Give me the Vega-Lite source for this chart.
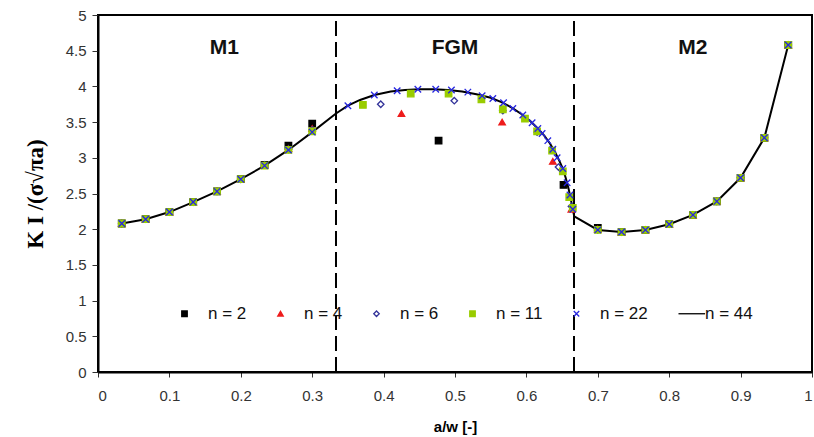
{
  "$schema": "https://vega.github.io/schema/vega-lite/v6.json",
  "width": 714,
  "height": 357,
  "autosize": {"type": "none"},
  "padding": {"left": 98, "top": 15, "right": 2, "bottom": 65},
  "background": "white",
  "config": {
    "view": {"stroke": "#000", "strokeWidth": 2},
    "axis": {
      "grid": false,
      "domainColor": "#000",
      "domainWidth": 2,
      "tickColor": "#333",
      "tickWidth": 1,
      "labelFont": "Liberation Sans",
      "labelFontSize": 15,
      "labelColor": "#333",
      "labelOverlap": false,
      "titleColor": "#000"
    },
    "legend": {
      "orient": "none",
      "legendX": 78,
      "legendY": 290,
      "direction": "horizontal",
      "title": null,
      "labelFont": "Liberation Sans",
      "labelFontSize": 17,
      "labelColor": "#111",
      "symbolSize": 30,
      "symbolStrokeWidth": 1.3,
      "labelOffset": 15,
      "columnPadding": 25
    }
  },
  "encoding": {
    "x": {
      "field": "x", "type": "quantitative",
      "scale": {"domain": [0, 1], "nice": false, "zero": false},
      "axis": {
        "values": [0, 0.1, 0.2, 0.3, 0.4, 0.5, 0.6, 0.7, 0.8, 0.9, 1],
        "labelExpr": "format(datum.value, '~g')",
        "tickSize": 5, "labelPadding": 11, "labelOverlap": false,
        "title": "a/w [-]",
        "titleFont": "Liberation Sans", "titleFontSize": 15, "titleFontWeight": "bold",
        "titlePadding": 16
      }
    },
    "y": {
      "field": "y", "type": "quantitative",
      "scale": {"domain": [0, 5], "nice": false, "zero": true},
      "axis": {
        "values": [0, 0.5, 1, 1.5, 2, 2.5, 3, 3.5, 4, 4.5, 5],
        "labelExpr": "format(datum.value, '~g')",
        "tickSize": 6, "labelPadding": 6, "labelOverlap": false, "labelSeparation": 0,
        "title": "K I /(σ√πa)",
        "titleFont": "Liberation Serif", "titleFontSize": 23, "titleFontWeight": "bold",
        "titlePadding": 18
      }
    }
  },
  "datasets": {
    "pts": [
      {"s": "n = 2", "x": 0.0333, "y": 2.08}, {"s": "n = 2", "x": 0.0667, "y": 2.14}, {"s": "n = 2", "x": 0.1, "y": 2.24},
      {"s": "n = 2", "x": 0.1333, "y": 2.38}, {"s": "n = 2", "x": 0.1667, "y": 2.53}, {"s": "n = 2", "x": 0.2, "y": 2.7},
      {"s": "n = 2", "x": 0.2333, "y": 2.9}, {"s": "n = 2", "x": 0.2667, "y": 3.17}, {"s": "n = 2", "x": 0.3, "y": 3.48},
      {"s": "n = 2", "x": 0.477, "y": 3.24}, {"s": "n = 2", "x": 0.652, "y": 2.62},
      {"s": "n = 2", "x": 0.7, "y": 2.02}, {"s": "n = 2", "x": 0.7333, "y": 1.96}, {"s": "n = 2", "x": 0.7667, "y": 1.99},
      {"s": "n = 2", "x": 0.8, "y": 2.07}, {"s": "n = 2", "x": 0.8333, "y": 2.2}, {"s": "n = 2", "x": 0.8667, "y": 2.39},
      {"s": "n = 2", "x": 0.9, "y": 2.72}, {"s": "n = 2", "x": 0.9333, "y": 3.28}, {"s": "n = 2", "x": 0.9667, "y": 4.58},

      {"s": "n = 4", "x": 0.0333, "y": 2.08}, {"s": "n = 4", "x": 0.0667, "y": 2.14}, {"s": "n = 4", "x": 0.1, "y": 2.24},
      {"s": "n = 4", "x": 0.1333, "y": 2.38}, {"s": "n = 4", "x": 0.1667, "y": 2.53}, {"s": "n = 4", "x": 0.2, "y": 2.7},
      {"s": "n = 4", "x": 0.2333, "y": 2.9}, {"s": "n = 4", "x": 0.2667, "y": 3.13}, {"s": "n = 4", "x": 0.3, "y": 3.41},
      {"s": "n = 4", "x": 0.425, "y": 3.62}, {"s": "n = 4", "x": 0.566, "y": 3.5}, {"s": "n = 4", "x": 0.637, "y": 2.95}, {"s": "n = 4", "x": 0.663, "y": 2.28},
      {"s": "n = 4", "x": 0.7, "y": 2.0}, {"s": "n = 4", "x": 0.7333, "y": 1.96}, {"s": "n = 4", "x": 0.7667, "y": 1.99},
      {"s": "n = 4", "x": 0.8, "y": 2.07}, {"s": "n = 4", "x": 0.8333, "y": 2.2}, {"s": "n = 4", "x": 0.8667, "y": 2.39},
      {"s": "n = 4", "x": 0.9, "y": 2.72}, {"s": "n = 4", "x": 0.9333, "y": 3.28}, {"s": "n = 4", "x": 0.9667, "y": 4.58},

      {"s": "n = 6", "x": 0.0333, "y": 2.08}, {"s": "n = 6", "x": 0.0667, "y": 2.14}, {"s": "n = 6", "x": 0.1, "y": 2.24},
      {"s": "n = 6", "x": 0.1333, "y": 2.38}, {"s": "n = 6", "x": 0.1667, "y": 2.53}, {"s": "n = 6", "x": 0.2, "y": 2.7},
      {"s": "n = 6", "x": 0.2333, "y": 2.9}, {"s": "n = 6", "x": 0.2667, "y": 3.12}, {"s": "n = 6", "x": 0.3, "y": 3.39},
      {"s": "n = 6", "x": 0.396, "y": 3.75}, {"s": "n = 6", "x": 0.499, "y": 3.8}, {"s": "n = 6", "x": 0.567, "y": 3.66},
      {"s": "n = 6", "x": 0.615, "y": 3.36}, {"s": "n = 6", "x": 0.645, "y": 2.87}, {"s": "n = 6", "x": 0.663, "y": 2.32},
      {"s": "n = 6", "x": 0.7, "y": 1.99}, {"s": "n = 6", "x": 0.7333, "y": 1.96}, {"s": "n = 6", "x": 0.7667, "y": 1.99},
      {"s": "n = 6", "x": 0.8, "y": 2.07}, {"s": "n = 6", "x": 0.8333, "y": 2.2}, {"s": "n = 6", "x": 0.8667, "y": 2.39},
      {"s": "n = 6", "x": 0.9, "y": 2.72}, {"s": "n = 6", "x": 0.9333, "y": 3.28}, {"s": "n = 6", "x": 0.9667, "y": 4.58},

      {"s": "n = 11", "x": 0.0333, "y": 2.08}, {"s": "n = 11", "x": 0.0667, "y": 2.14}, {"s": "n = 11", "x": 0.1, "y": 2.24},
      {"s": "n = 11", "x": 0.1333, "y": 2.38}, {"s": "n = 11", "x": 0.1667, "y": 2.53}, {"s": "n = 11", "x": 0.2, "y": 2.7},
      {"s": "n = 11", "x": 0.2333, "y": 2.89}, {"s": "n = 11", "x": 0.2667, "y": 3.11}, {"s": "n = 11", "x": 0.3, "y": 3.37},
      {"s": "n = 11", "x": 0.371, "y": 3.74}, {"s": "n = 11", "x": 0.438, "y": 3.9}, {"s": "n = 11", "x": 0.491, "y": 3.9},
      {"s": "n = 11", "x": 0.537, "y": 3.82}, {"s": "n = 11", "x": 0.567, "y": 3.68}, {"s": "n = 11", "x": 0.598, "y": 3.55},
      {"s": "n = 11", "x": 0.615, "y": 3.37}, {"s": "n = 11", "x": 0.636, "y": 3.1}, {"s": "n = 11", "x": 0.651, "y": 2.81},
      {"s": "n = 11", "x": 0.66, "y": 2.45}, {"s": "n = 11", "x": 0.665, "y": 2.3},
      {"s": "n = 11", "x": 0.7, "y": 1.99}, {"s": "n = 11", "x": 0.7333, "y": 1.96}, {"s": "n = 11", "x": 0.7667, "y": 1.99},
      {"s": "n = 11", "x": 0.8, "y": 2.07}, {"s": "n = 11", "x": 0.8333, "y": 2.2}, {"s": "n = 11", "x": 0.8667, "y": 2.39},
      {"s": "n = 11", "x": 0.9, "y": 2.72}, {"s": "n = 11", "x": 0.9333, "y": 3.28}, {"s": "n = 11", "x": 0.9667, "y": 4.58},

      {"s": "n = 22", "x": 0.0333, "y": 2.08}, {"s": "n = 22", "x": 0.0667, "y": 2.14}, {"s": "n = 22", "x": 0.1, "y": 2.24},
      {"s": "n = 22", "x": 0.1333, "y": 2.38}, {"s": "n = 22", "x": 0.1667, "y": 2.53}, {"s": "n = 22", "x": 0.2, "y": 2.7},
      {"s": "n = 22", "x": 0.2333, "y": 2.89}, {"s": "n = 22", "x": 0.2667, "y": 3.11}, {"s": "n = 22", "x": 0.3, "y": 3.36},
      {"s": "n = 22", "x": 0.35, "y": 3.73}, {"s": "n = 22", "x": 0.387, "y": 3.88}, {"s": "n = 22", "x": 0.419, "y": 3.94},
      {"s": "n = 22", "x": 0.448, "y": 3.96}, {"s": "n = 22", "x": 0.473, "y": 3.96}, {"s": "n = 22", "x": 0.495, "y": 3.95},
      {"s": "n = 22", "x": 0.518, "y": 3.92}, {"s": "n = 22", "x": 0.538, "y": 3.87}, {"s": "n = 22", "x": 0.553, "y": 3.83},
      {"s": "n = 22", "x": 0.568, "y": 3.77}, {"s": "n = 22", "x": 0.581, "y": 3.69}, {"s": "n = 22", "x": 0.595, "y": 3.6},
      {"s": "n = 22", "x": 0.608, "y": 3.49}, {"s": "n = 22", "x": 0.616, "y": 3.41}, {"s": "n = 22", "x": 0.622, "y": 3.34},
      {"s": "n = 22", "x": 0.63, "y": 3.24}, {"s": "n = 22", "x": 0.637, "y": 3.12}, {"s": "n = 22", "x": 0.643, "y": 3.0},
      {"s": "n = 22", "x": 0.651, "y": 2.85}, {"s": "n = 22", "x": 0.657, "y": 2.65}, {"s": "n = 22", "x": 0.661, "y": 2.48},
      {"s": "n = 22", "x": 0.665, "y": 2.28},
      {"s": "n = 22", "x": 0.7, "y": 1.99}, {"s": "n = 22", "x": 0.7333, "y": 1.96}, {"s": "n = 22", "x": 0.7667, "y": 1.99},
      {"s": "n = 22", "x": 0.8, "y": 2.07}, {"s": "n = 22", "x": 0.8333, "y": 2.2}, {"s": "n = 22", "x": 0.8667, "y": 2.39},
      {"s": "n = 22", "x": 0.9, "y": 2.72}, {"s": "n = 22", "x": 0.9333, "y": 3.28}, {"s": "n = 22", "x": 0.9667, "y": 4.58}
    ],
    "curve": [
      {"x": 0.0333, "y": 2.08}, {"x": 0.0667, "y": 2.14}, {"x": 0.1, "y": 2.24}, {"x": 0.1333, "y": 2.38},
      {"x": 0.1667, "y": 2.53}, {"x": 0.2, "y": 2.7}, {"x": 0.2333, "y": 2.89}, {"x": 0.2667, "y": 3.11},
      {"x": 0.3, "y": 3.36}, {"x": 0.3333, "y": 3.62}, {"x": 0.35, "y": 3.73}, {"x": 0.367, "y": 3.81},
      {"x": 0.387, "y": 3.88}, {"x": 0.41, "y": 3.93}, {"x": 0.43, "y": 3.95}, {"x": 0.45, "y": 3.96},
      {"x": 0.47, "y": 3.96}, {"x": 0.49, "y": 3.95}, {"x": 0.51, "y": 3.93}, {"x": 0.53, "y": 3.89},
      {"x": 0.55, "y": 3.84}, {"x": 0.565, "y": 3.78}, {"x": 0.58, "y": 3.7}, {"x": 0.595, "y": 3.6},
      {"x": 0.605, "y": 3.52}, {"x": 0.615, "y": 3.42}, {"x": 0.625, "y": 3.31}, {"x": 0.633, "y": 3.2},
      {"x": 0.64, "y": 3.08}, {"x": 0.646, "y": 2.96}, {"x": 0.651, "y": 2.85}, {"x": 0.655, "y": 2.72},
      {"x": 0.659, "y": 2.57}, {"x": 0.662, "y": 2.43}, {"x": 0.665, "y": 2.28}, {"x": 0.667, "y": 2.18},
      {"x": 0.7, "y": 1.99}, {"x": 0.7333, "y": 1.96}, {"x": 0.7667, "y": 1.99}, {"x": 0.8, "y": 2.07},
      {"x": 0.8333, "y": 2.2}, {"x": 0.8667, "y": 2.39}, {"x": 0.9, "y": 2.72}, {"x": 0.9333, "y": 3.28},
      {"x": 0.9667, "y": 4.58}
    ],
    "bounds": [{"x": 0.33333, "y": 0, "y2": 5}, {"x": 0.66667, "y": 0, "y2": 5}],
    "regions": [
      {"label": "M1", "x": 0.177, "y": 4.54},
      {"label": "FGM", "x": 0.5, "y": 4.54},
      {"label": "M2", "x": 0.833, "y": 4.54}
    ]
  },
  "layer": [
    {
      "data": {"name": "bounds"},
      "mark": {"type": "rule", "color": "#000", "strokeWidth": 2, "strokeDash": [15, 6]},
      "encoding": {
        "y2": {"field": "y2"}
      }
    },
    {
      "data": {"name": "curve"},
      "mark": {"type": "line", "color": "#000", "strokeWidth": 2},
      "encoding": {}
    },
    {
      "data": {"name": "pts"},
      "mark": {"type": "point", "filled": true, "size": 42, "strokeWidth": 1.3, "opacity": 1},
      "encoding": {
        "fill": {
          "field": "s", "type": "nominal",
          "scale": {
            "domain": ["n = 2", "n = 4", "n = 6", "n = 11", "n = 22", "n = 44"],
            "range": ["#000000", "#ee1c1c", "#ffffff", "#99cc00", "#2626e0", "#000000"]
          },
          "sort": null,
          "legend": {"labelExpr": "datum.label === 'n = 44' ? '\u00a0\u00a0n = 44' : datum.label"}
        },
        "stroke": {
          "field": "s", "type": "nominal",
          "scale": {
            "domain": ["n = 2", "n = 4", "n = 6", "n = 11", "n = 22", "n = 44"],
            "range": ["#000000", "#ee1c1c", "#33339a", "#99cc00", "#2626e0", "#000000"]
          },
          "sort": null,
          "legend": {"labelExpr": "datum.label === 'n = 44' ? '\u00a0\u00a0n = 44' : datum.label"}
        },
        "shape": {
          "field": "s", "type": "nominal",
          "scale": {
            "domain": ["n = 2", "n = 4", "n = 6", "n = 11", "n = 22", "n = 44"],
            "range": ["square", "triangle-up", "diamond", "square", "M-1,-1L1,1M-1,1L1,-1", "M-1.1,0H8.6"]
          },
          "sort": null,
          "legend": {"labelExpr": "datum.label === 'n = 44' ? '\u00a0\u00a0n = 44' : datum.label"}
        }
      }
    },
    {
      "data": {"name": "regions"},
      "mark": {"type": "text", "font": "Liberation Sans", "fontSize": 21, "fontWeight": "bold", "color": "#111", "align": "center", "baseline": "middle"},
      "encoding": {
        "text": {"field": "label"}
      }
    }
  ]
}
